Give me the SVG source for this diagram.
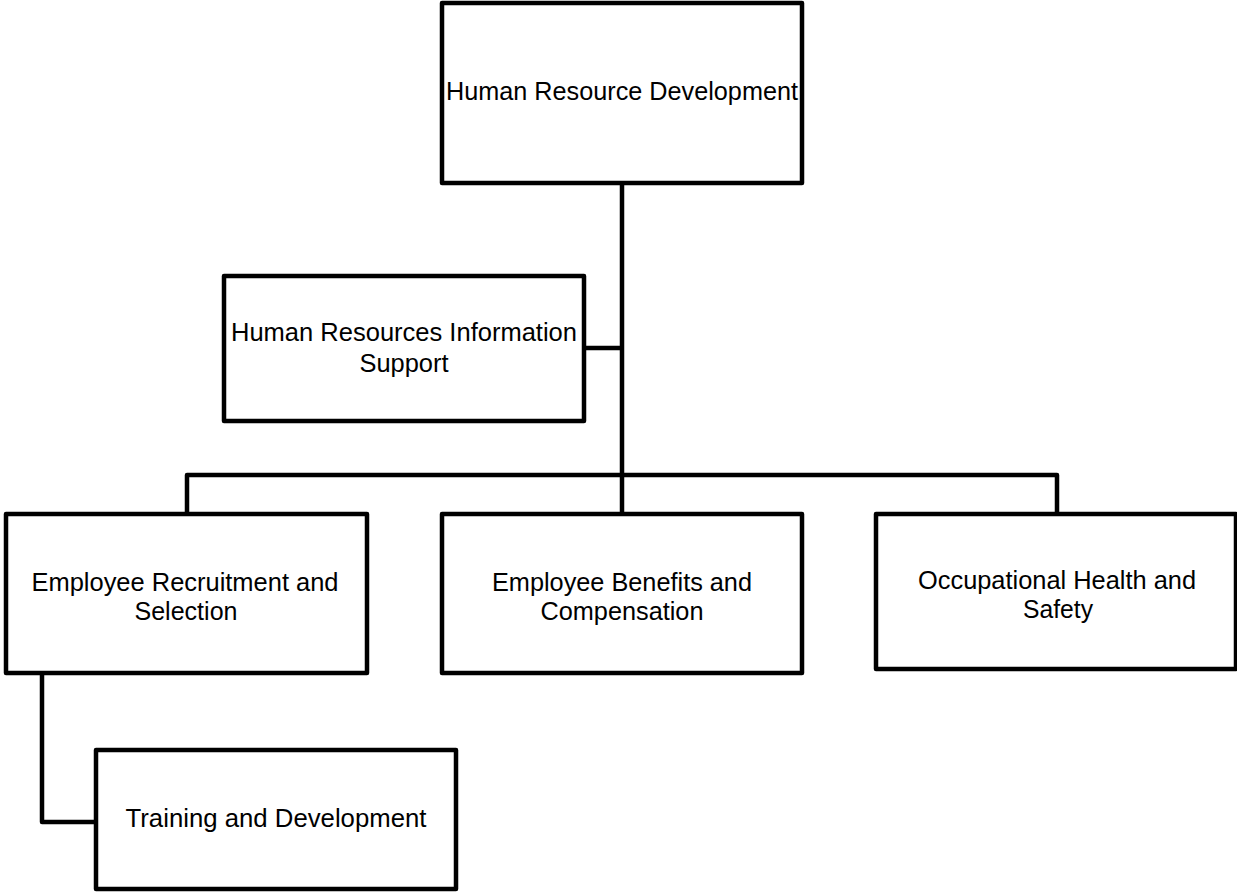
<svg xmlns="http://www.w3.org/2000/svg" width="1237" height="892" viewBox="0 0 1237 892">
  <style>
    .box { fill: #ffffff; stroke: #000000; stroke-width: 4.5; stroke-linejoin: round; }
    .conn { fill: none; stroke: #000000; stroke-width: 4.5; stroke-linejoin: round; stroke-linecap: butt; }
    .lbl { font-family: "Liberation Sans", Arial, sans-serif; font-size: 25px; fill: #000000; text-anchor: middle; }
  </style>
  <rect x="0" y="0" width="1237" height="892" fill="#ffffff"/>
  <g id="connectors">
    <line class="conn" x1="622" y1="183" x2="622" y2="477"/>
    <line class="conn" x1="584" y1="348" x2="622" y2="348"/>
    <polyline class="conn" points="187,514 187,475 1057,475 1057,514"/>
    <line class="conn" x1="622" y1="475" x2="622" y2="514"/>
    <polyline class="conn" points="42,673 42,822 96,822"/>
  </g>
  <g id="node-hrd">
    <rect class="box" x="442" y="3" width="360" height="180"/>
    <text class="lbl" x="622" y="100" textLength="352" lengthAdjust="spacingAndGlyphs">Human Resource Development</text>
  </g>
  <g id="node-hris">
    <rect class="box" x="224" y="276" width="360" height="145"/>
    <text class="lbl" x="404" y="341" textLength="346" lengthAdjust="spacingAndGlyphs">Human Resources Information</text>
    <text class="lbl" x="404" y="372" textLength="89" lengthAdjust="spacingAndGlyphs">Support</text>
  </g>
  <g id="node-ers">
    <rect class="box" x="6" y="514" width="361" height="159"/>
    <text class="lbl" x="185" y="591" textLength="307" lengthAdjust="spacingAndGlyphs">Employee Recruitment and</text>
    <text class="lbl" x="186" y="620" textLength="103" lengthAdjust="spacingAndGlyphs">Selection</text>
  </g>
  <g id="node-ebc">
    <rect class="box" x="442" y="514" width="360" height="159"/>
    <text class="lbl" x="622" y="591" textLength="260" lengthAdjust="spacingAndGlyphs">Employee Benefits and</text>
    <text class="lbl" x="622" y="620" textLength="163" lengthAdjust="spacingAndGlyphs">Compensation</text>
  </g>
  <g id="node-ohs">
    <rect class="box" x="876" y="514" width="360" height="155"/>
    <text class="lbl" x="1057" y="589" textLength="278" lengthAdjust="spacingAndGlyphs">Occupational Health and</text>
    <text class="lbl" x="1058" y="618" textLength="70" lengthAdjust="spacingAndGlyphs">Safety</text>
  </g>
  <g id="node-td">
    <rect class="box" x="96" y="750" width="360" height="139"/>
    <text class="lbl" x="276" y="827" textLength="301" lengthAdjust="spacingAndGlyphs">Training and Development</text>
  </g>
</svg>
